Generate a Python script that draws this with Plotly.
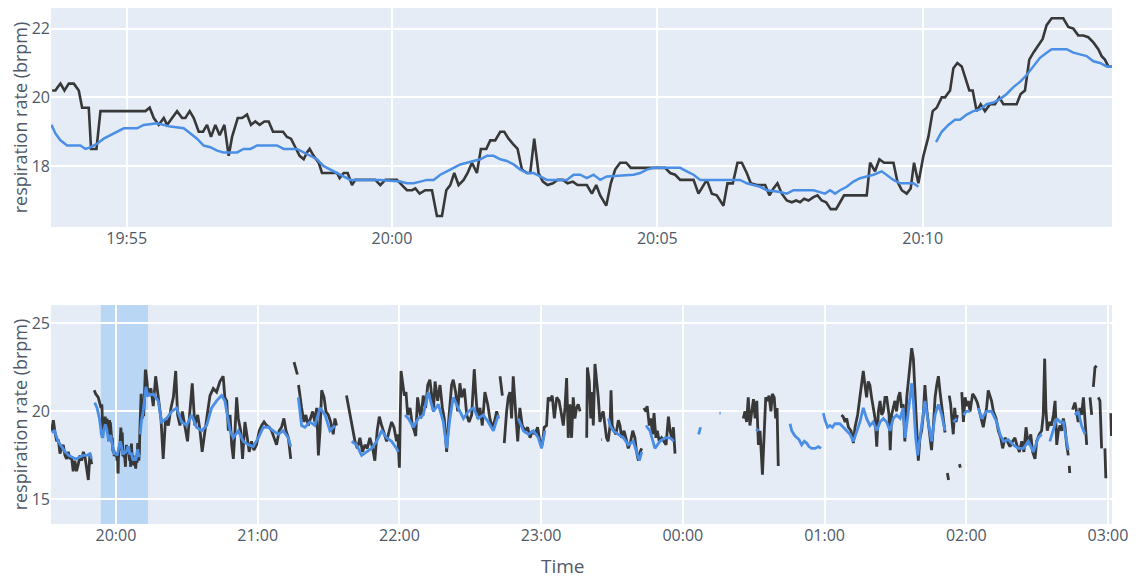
import pandas as pd
import plotly.graph_objects as go

BASE = pd.Timestamp("2023-03-01 20:00:00")

# ---------------- top panel (zoomed window), time in seconds from 20:00 ----------------
top_black_t = [
    -384.2, -380.5, -377.8, -374.8, -370.3, -365.4, -359.7, -354.1, -350.3, -345.4,
    -342.8, -340.2, -334.1, -329.6, -323.9, -278.8, -273.9, -269.3, -263.7, -258.0,
    -254.3, -248.6, -243.0, -237.3, -233.6, -228.7, -224.1, -218.5, -213.6, -209.1,
    -204.6, -199.7, -194.8, -189.5, -184.6, -180.8, -174.4, -169.5, -163.9, -159.4,
    -154.5, -149.6, -144.3, -139.4, -134.5, -128.1, -123.2, -118.7, -114.2, -109.3,
    -104.4, -99.8, -96.1, -93.1, -88.6, -82.9, -79.1, -62.2, -59.2, -54.6,
    -50.1, -45.2, -41.5, -18.9, -13.2, -7.6, 5.6, 11.3, 16.9, 22.6,
    26.4, 31.2, 37.6, 45.2, 50.8, 56.5, 61.4, 65.9, 70.4, 75.3,
    81.0, 85.5, 90.4, 96.0, 100.5, 106.6, 111.1, 116.7, 122.4, 126.9,
    131.8, 136.7, 142.0, 146.9, 152.5, 156.3, 160.8, 165.7, 170.6, 175.9,
    181.9, 187.2, 193.2, 198.5, 204.5, 209.8, 220.3, 226.0, 230.9, 235.4,
    242.2, 247.4, 252.3, 258.0, 264.8, 270.0, 308.8, 314.5, 320.1, 325.8,
    340.9, 346.5, 351.4, 355.9, 361.6, 367.2, 374.7, 379.3, 385.3, 390.6,
    395.5, 401.1, 405.6, 412.4, 416.2, 421.9, 426.7, 431.3, 435.8, 440.7,
    446.3, 452.0, 456.9, 461.4, 465.9, 470.8, 476.5, 481.0, 485.9, 490.8,
    496.0, 502.1, 506.6, 511.1, 536.7, 540.5, 546.1, 551.0, 556.3, 566.9,
    571.4, 576.3, 581.9, 586.4, 590.2, 595.1, 600.8, 606.4, 611.3, 615.8,
    621.5, 625.2, 630.9, 634.7, 639.2, 644.1, 649.0, 652.7, 656.5, 661.0,
    665.5, 670.4, 676.1, 681.7, 686.6, 691.2, 706.2, 710.7, 715.6, 720.5,
    725.1, 730.7, 735.6, 740.1, 745.8, 758.9, 764.6, 770.3, 775.9, 781.6,
    787.2, 792.9, 798.5, 802.3, 806.0, 809.8, 813.6,
]
top_black = [
    20.2, 20.2, 20.3, 20.4, 20.2, 20.4, 20.4, 20.2, 19.7, 19.7,
    19.7, 18.5, 18.5, 19.6, 19.6, 19.6, 19.7, 19.4, 19.2, 19.4,
    19.2, 19.4, 19.6, 19.4, 19.4, 19.6, 19.4, 19.0, 19.0, 19.2,
    18.85, 19.2, 18.9, 19.2, 18.3, 18.85, 19.4, 19.4, 19.5, 19.2,
    19.3, 19.2, 19.3, 19.3, 19.0, 19.0, 19.0, 18.85, 18.8, 18.55,
    18.3, 18.2, 18.4, 18.5, 18.3, 18.1, 17.8, 17.8, 17.65, 17.8,
    17.8, 17.45, 17.6, 17.6, 17.45, 17.6, 17.6, 17.45, 17.3, 17.3,
    17.35, 17.2, 17.3, 17.3, 16.55, 16.55, 17.3, 17.45, 17.8, 17.45,
    17.6, 17.8, 18.1, 17.8, 18.5, 18.5, 18.75, 18.75, 19.0, 19.0,
    18.8, 18.65, 18.5, 17.9, 17.8, 17.8, 18.8, 17.8, 17.55, 17.45,
    17.5, 17.6, 17.6, 17.5, 17.55, 17.45, 17.45, 17.2, 17.45, 17.15,
    16.85, 17.5, 17.9, 18.1, 18.1, 17.95, 17.95, 17.8, 17.75, 17.6,
    17.6, 17.2, 17.4, 17.6, 17.2, 17.15, 16.85, 17.5, 17.5, 18.1,
    18.1, 17.8, 17.5, 17.45, 17.45, 17.45, 17.15, 17.35, 17.5, 17.2,
    17.0, 16.95, 17.0, 16.95, 17.05, 17.0, 17.1, 17.15, 17.0, 16.95,
    16.75, 16.75, 16.95, 17.15, 17.15, 18.1, 17.85, 18.2, 18.1, 18.1,
    17.55, 17.3, 17.2, 17.35, 18.1, 17.5, 18.3, 18.85, 19.6, 19.7,
    20.0, 20.0, 20.2, 20.85, 21.0, 20.9, 20.5, 20.2, 20.2, 19.6,
    19.8, 19.6, 19.8, 19.8, 20.0, 19.8, 19.8, 20.1, 20.2, 21.1,
    21.3, 21.5, 21.7, 22.1, 22.3, 22.3, 22.05, 22.0, 21.8, 21.8,
    21.75, 21.6, 21.4, 21.2, 21.1, 20.9, 20.9,
]
top_blue_t = [
    -385.0, -380.5, -374.8, -367.3, -352.2, -346.6, -340.9, -333.4, -325.9, -318.3,
    -310.8, -303.2, -288.2, -280.6, -265.6, -258.0, -250.5, -235.4, -227.9, -220.4,
    -212.9, -205.3, -197.8, -190.3, -175.2, -167.7, -160.1, -152.6, -130.0, -122.4,
    -107.4, -99.8, -92.3, -84.8, -77.2, -69.7, -62.2, -54.7, -47.1, -13.2,
    9.4, 16.9, 24.5, 32.0, 39.5, 47.1, 54.6, 62.1, 69.7, 77.2,
    84.7, 92.3, 99.8, 107.3, 114.9, 122.4, 129.9, 137.5, 145.0, 152.5,
    160.1, 167.6, 175.1, 197.7, 205.3, 212.8, 220.3, 227.9, 235.4, 242.9,
    273.0, 280.6, 288.1, 295.6, 325.8, 333.3, 340.9, 348.4, 393.6, 401.1,
    408.6, 416.2, 423.7, 438.8, 446.3, 453.9, 476.5, 484.0, 489.6, 495.3,
    500.9, 506.6, 514.1, 521.7, 529.2, 536.7, 544.3, 553.7, 561.2, 566.9,
    574.4, 589.5, 595.1, 605.0, 615.1, 621.5, 629.0, 636.5, 642.2, 649.7,
    657.3, 664.8, 672.3, 679.9, 687.4, 694.9, 702.5, 710.0, 717.5, 725.1,
    732.6, 740.1, 745.8, 762.7, 770.3, 777.8, 785.3, 792.9, 800.4, 807.9,
    813.6,
]
top_blue = [
    19.2, 18.95, 18.75, 18.6, 18.6, 18.5, 18.55, 18.65, 18.8, 18.9,
    19.0, 19.1, 19.1, 19.2, 19.25, 19.2, 19.15, 19.1, 18.95, 18.8,
    18.6, 18.55, 18.45, 18.4, 18.4, 18.5, 18.5, 18.6, 18.6, 18.5,
    18.5, 18.4, 18.3, 18.2, 18.0, 17.9, 17.8, 17.7, 17.6, 17.6,
    17.55, 17.5, 17.5, 17.55, 17.6, 17.6, 17.75, 17.85, 17.95, 18.05,
    18.1, 18.15, 18.2, 18.3, 18.3, 18.2, 18.15, 18.05, 17.9, 17.8,
    17.8, 17.7, 17.6, 17.6, 17.75, 17.75, 17.65, 17.75, 17.6, 17.7,
    17.75, 17.8, 17.9, 17.95, 17.95, 17.85, 17.75, 17.6, 17.6, 17.5,
    17.45, 17.4, 17.3, 17.25, 17.2, 17.3, 17.3, 17.25, 17.2, 17.3,
    17.2, 17.3, 17.4, 17.55, 17.65, 17.7, 17.75, 17.85, 17.7, 17.6,
    17.5, 17.5, 17.4, None, 18.7, 19.0, 19.2, 19.35, 19.35, 19.5,
    19.6, 19.65, 19.8, 19.85, 19.95, 20.1, 20.3, 20.45, 20.65, 20.9,
    21.15, 21.3, 21.4, 21.4, 21.3, 21.25, 21.2, 21.05, 21.0, 20.9,
    20.9,
]

# ---------------- bottom panel (whole night), time in minutes from 20:00 ----------------
night_black_pre_t = [
    -27.2, -26.5, -25.8, -25.1, -24.4, -23.7, -23.0, -22.3, -21.6, -20.9,
    -20.2, -19.5, -18.8, -18.1, -17.4, -16.7, -15.95, -15.2, -14.5, -13.8,
    -13.1, -12.4, -11.7, -11.0, -10.3, -9.8, -9.2, -8.6, -7.5, -6.8,
]
night_black_pre = [
    18.9, 19.5, 18.8, 18.3, 18.4, 17.6, 17.9, 18.1, 17.5, 17.3,
    17.7, 17.3, 17.4, 16.6, 17.2, 16.6, 17.0, 17.5, 17.2, 17.7,
    17.4, 16.8, 16.1, 17.6, 17.0, None, 21.2, 21.0, 20.8, 20.4,
]
night_blue_pre_t = [
    -27.2, -26.0, -24.5, -23.0, -21.5, -20.0, -18.5, -17.0, -15.5, -14.0,
    -12.5, -11.0, -10.3, -9.8, -9.0, -8.0, -7.0,
]
night_blue_pre = [
    18.8, 18.9, 18.3, 18.0, 17.7, 17.5, 17.4, 17.3, 17.4, 17.5,
    17.5, 17.6, 17.3, None, 20.5, 20.2, 19.6,
]
night_black_post_t = [
    13.7, 14.8, 15.8, 16.8, 17.9, 19.05, 20.0, 21.0, 22.2, 23.3,
    24.3, 25.3, 26.1, 27.1, 28.1, 29.2, 30.3, 31.3, 32.3, 33.4,
    34.6, 35.6, 36.5, 37.7, 38.8, 39.8, 41.2, 42.6, 44.0, 45.4,
    46.1, 46.9, 47.6, 48.3, 49.0, 49.7, 50.4, 51.1, 51.8, 52.8,
    53.6, 54.6, 55.6, 56.4, 57.4, 58.4, 59.5, 60.7, 61.7, 62.7,
    63.8, 64.9, 65.9, 66.9, 68.0, 69.1, 70.1, 71.1, 72.0, 73.0,
    74.0, 74.7, 75.4, 76.2, 76.8, 77.05, 77.3, 77.9, 78.6, 79.6,
    80.4, 81.4, 82.4, 83.3, 84.2, 85.0, 85.7, 86.4, 87.1, 88.1,
    88.9, 89.9, 90.9, 92.0, 92.7, 93.4, 95.5, 97.6, 98.0, 98.4,
    99.3, 100.2, 101.2, 102.2, 103.3, 104.4, 105.4, 106.4, 107.5, 108.7,
    109.6, 110.6, 111.5, 112.5, 113.5, 114.6, 115.7, 116.7, 117.7, 118.8,
    119.3, 120.0, 120.7, 121.2, 122.1, 122.8, 123.5, 124.5, 125.5, 126.3,
    126.9, 127.7, 128.3, 129.1, 130.1, 131.1, 132.0, 132.9, 133.7, 134.4,
    135.1, 136.2, 137.2, 138.2, 139.0, 140.0, 140.7, 141.4, 142.1, 142.8,
    143.8, 144.7, 145.6, 146.4, 147.5, 148.5, 149.5, 150.6, 151.7, 152.3,
    153.1, 154.1, 155.1, 156.2, 157.4, 158.3, 159.3, 160.2, 161.2, 161.9,
    162.25, 162.6, 163.6, 164.0, 164.4, 164.7, 165.4, 166.1, 166.8, 167.5,
    168.2, 169.2, 170.1, 171.0, 172.0, 173.2, 174.3, 175.3, 176.3, 177.4,
    178.5, 179.5, 180.5, 181.3, 182.3, 183.0, 183.7, 184.7, 185.6, 186.6,
    187.6, 188.4, 189.4, 190.1, 190.8, 191.5, 192.2, 192.9, 193.6, 194.3,
    195.0, 195.7, 196.5, 198.0, 199.3, 199.6, 200.4, 201.0, 201.5, 202.1,
    202.8, 203.5, 204.2, 204.9, 205.6, 206.3, 207.0, 207.7, 208.4, 209.2,
    209.6, 210.1, 210.8, 211.7, 212.7, 213.4, 214.1, 215.1, 215.9, 216.9,
    217.9, 218.8, 219.7, 220.4, 221.2, 221.9, 222.6, 223.0, 223.5, 224.4,
    224.9, 225.8, 226.4, 227.2, 227.8, 228.6, 229.2, 230.0, 231.0, 232.0,
    232.9, 233.9, 234.6, 235.3, 236.0, 236.7, 250.0, 265.6, 266.3, 267.0,
    267.7, 268.4, 269.1, 269.9, 270.6, 271.3, 272.0, 272.7, 273.7, 274.5,
    275.1, 275.9, 276.5, 277.3, 277.9, 278.7, 279.3, 279.9, 280.4, 295.0,
    307.2, 307.9, 308.7, 309.4, 310.1, 311.2, 312.2, 312.9, 314.0, 315.0,
    315.7, 316.4, 317.1, 317.8, 318.5, 319.2, 319.9, 320.6, 321.4, 322.1,
    322.8, 323.5, 324.2, 324.9, 325.6, 326.3, 327.3, 327.8, 328.4, 329.1,
    329.8, 330.5, 331.2, 331.9, 332.6, 333.3, 334.0, 334.8, 335.5, 336.2,
    336.9, 337.6, 338.3, 339.0, 339.7, 340.4, 341.1, 341.8, 342.5, 343.2,
    343.9, 344.6, 345.3, 346.1, 346.8, 347.5, 348.2, 348.9, 349.6, 350.3,
    351.0, 351.5, 352.0, 352.5, 352.65, 352.8, 353.4, 354.0, 354.5, 355.1,
    355.7, 356.2, 356.6, 357.1, 357.5, 357.8, 358.1, 358.8, 359.5, 360.2,
    360.9, 361.6, 362.7, 363.7, 364.7, 365.5, 366.5, 367.2, 368.6, 369.3,
    370.0, 370.7, 371.5, 372.6, 373.6, 374.6, 375.4, 376.4, 377.4, 378.5,
    379.6, 380.6, 381.6, 382.5, 383.5, 384.4, 385.3, 386.3, 387.3, 388.1,
    389.1, 389.8, 390.9, 391.9, 392.6, 393.2, 393.7, 394.3, 395.2, 396.1,
    396.9, 397.6, 398.3, 399.0, 399.7, 400.4, 401.1, 401.8, 402.5, 403.2,
    403.4, 403.6, 403.8, 404.4, 405.0, 406.0, 406.7, 407.4, 408.1, 408.8,
    409.6, 410.3, 411.0, 411.7, 412.4, 413.1, 413.5, 413.8, 414.5, 415.2,
    415.5, 415.9, 416.6, 417.3, 418.0, 418.7, 419.1, 420.0, 421.2, 421.5,
]
night_black_post = [
    21.1, 21.3, 20.3, 22.0, 20.9, 19.6, 17.3, 19.6, 19.2, 20.2,
    20.8, 22.3, 19.8, 19.2, 20.0, 19.1, 18.3, 20.0, 21.6, 19.2,
    19.8, 18.9, 17.7, 18.9, 20.0, 20.9, 21.3, 21.1, 21.7, 22.0,
    20.8, 20.6, 18.9, 19.8, 18.1, 17.3, 18.9, 20.8, 19.6, 18.9,
    17.3, 19.4, 18.5, 17.7, 18.3, 17.8, 18.1, 18.9, 19.2, 19.4,
    19.2, 19.1, 18.9, 18.5, 18.1, 18.9, 19.1, 19.6, 18.9, 18.5,
    17.3, None, 22.8, 22.4, 22.1, None, 21.5, 20.8, 20.2, 19.4,
    19.8, 19.2, 19.6, 20.0, 19.4, 20.2, 17.5, 18.9, 21.2, 20.8,
    20.0, 19.8, 19.4, 18.7, 19.6, 19.2, None, 20.9, 20.6, 20.2,
    19.6, 18.9, 18.3, 17.9, 18.5, 17.7, 18.1, 17.9, 18.5, 17.9,
    17.2, 18.9, 19.7, 19.2, 18.7, 18.3, 18.9, 19.4, 19.1, 18.3,
    18.7, 16.8, 22.3, 21.7, 20.9, 21.1, 19.8, 20.2, 19.2, 18.9,
    18.6, 20.8, 20.2, 19.6, 20.9, 20.2, 21.5, 21.8, 20.9, 20.0,
    21.7, 20.6, 21.5, 20.2, 19.6, 17.7, 19.2, 20.2, 21.5, 21.8,
    21.1, 20.0, 21.6, 20.8, 21.3, 19.8, 19.4, 19.8, 22.4, 21.1,
    19.6, 20.2, 19.2, 21.1, 20.4, 19.6, 19.1, 19.4, 20.0, 19.6,
    None, 22.0, 20.9, None, 18.2, 18.8, 20.0, 20.8, 21.1, 19.6,
    22.0, 20.0, 18.3, 20.2, 19.2, 18.9, 19.1, 18.5, 18.9, 18.7,
    19.1, 18.3, 18.1, 19.1, 19.2, 20.8, 20.6, 20.9, 19.6, 20.8,
    20.6, 20.0, 19.2, 20.2, 21.9, 18.5, 20.4, 18.5, 20.8, 19.6,
    20.2, 20.4, 20.0, None, 18.5, 22.5, 21.7, 19.6, 21.1, 19.2,
    22.7, 21.9, 20.8, 19.4, 19.8, 20.0, 19.2, 18.5, 18.3, 19.2,
    21.2, 19.2, 18.9, 18.7, 19.5, 19.2, 18.5, 18.9, 18.5, 17.9,
    18.3, 18.9, 18.5, 17.7, 17.2, 17.7, 17.9, None, 20.2, 20.0,
    20.3, 19.2, 19.6, 18.7, 19.9, 18.5, 18.9, 18.3, 18.5, 18.3,
    18.1, 19.7, 18.9, 18.5, 19.1, 17.6, None, 19.6, 20.0, 19.4,
    20.8, 19.2, 20.0, 20.7, 19.6, 20.6, 18.1, 18.9, 16.4, 19.6,
    20.8, 20.6, 20.9, 20.0, 21.0, 20.8, 19.6, 20.2, 16.9, None,
    19.8, 19.7, 19.4, 19.6, 19.1, 18.9, 18.2, 19.1, 19.8, 20.8,
    21.3, 22.3, 21.5, 20.8, 21.7, 21.5, 20.8, 20.2, 19.6, 18.0,
    20.0, 20.6, 19.8, 20.0, 20.8, 20.8, 19.8, 17.8, 19.8, 20.2,
    20.6, 20.0, 20.8, 21.1, 20.2, 20.4, 18.3, 20.8, 21.7, 23.0,
    23.6, 23.0, 20.8, 18.7, 17.2, 18.5, 18.9, 19.8, 21.5, 20.2,
    19.4, 18.7, 17.8, 19.2, 20.8, 21.5, 22.0, 21.1, 20.4, 19.6,
    18.8, None, 16.5, 16.1, None, 20.9, 20.4, 19.4, 18.7, 20.2,
    19.4, 19.8, None, 17.0, 16.8, None, 21.1, 19.4, 20.8, 20.3,
    20.6, 20.0, 21.0, 20.8, 20.5, 20.0, 19.4, 19.1, 20.2, 21.2,
    20.9, 20.6, 20.0, 19.6, 18.9, 18.5, 17.9, 18.5, 18.3, 18.0,
    18.3, 18.5, 18.0, 17.7, 18.3, 17.7, 19.1, 18.1, 18.7, 17.7,
    17.3, 18.3, 18.7, 18.9, 19.8, 23.0, 20.2, 18.9, 19.4, 19.2,
    19.8, 20.6, 18.1, 18.9, 19.2, 18.9, 19.6, 19.1, 18.1, 17.5,
    None, 16.9, 16.5, None, 20.1, 20.5, 20.0, 19.4, 20.2, 19.8,
    20.8, 19.4, 18.1, None, 20.8, 19.8, None, 21.4, 22.5, 22.6,
    None, 20.8, 20.6, 17.9, None, 17.9, 16.2, None, 19.9, 18.6,
]
night_blue_post_t = [
    15.8, 17.9, 19.3, 21.4, 23.6, 25.7, 27.8, 29.9, 32.0, 34.1,
    36.3, 38.4, 40.5, 42.6, 44.7, 46.1, 48.3, 49.7, 51.8, 53.9,
    56.0, 58.1, 60.3, 62.4, 64.5, 66.6, 68.7, 70.8, 73.0, 74.0,
    75.5, 77.2, 78.6, 80.0, 82.1, 84.2, 86.4, 88.5, 90.6, 92.7,
    96.0, 99.8, 101.9, 104.0, 106.1, 108.2, 110.4, 112.5, 114.6, 116.7,
    118.8, 119.5, 121.0, 122.4, 123.8, 125.9, 128.0, 130.1, 132.2, 134.4,
    136.5, 138.6, 140.0, 141.4, 142.8, 144.9, 147.1, 149.2, 151.3, 153.4,
    155.5, 157.6, 159.8, 161.9, 166.0, 170.3, 172.5, 174.6, 176.7, 178.8,
    180.2, 181.6, 195.0, 205.4, 205.8, 207.0, 208.5, 209.2, 210.6, 212.7,
    214.8, 216.9, 219.0, 220.4, 221.6, 222.6, 223.5, 224.4, 226.1, 228.2,
    230.3, 232.4, 234.6, 236.2, 240.0, 246.7, 247.5, 250.0, 255.5, 256.0,
    260.0, 271.0, 272.0, 280.0, 285.4, 286.1, 287.5, 289.2, 290.3, 291.4,
    292.4, 293.4, 294.5, 296.0, 297.4, 298.5, 299.0, 299.5, 300.2, 301.3,
    302.3, 303.3, 304.4, 306.5, 308.7, 310.8, 312.2, 313.6, 315.0, 316.4,
    317.8, 319.2, 320.6, 322.1, 323.5, 324.9, 326.3, 327.7, 329.1, 330.5,
    332.0, 333.3, 334.1, 335.5, 336.9, 337.6, 338.6, 339.4, 340.4, 341.8,
    342.5, 343.9, 345.3, 346.8, 348.2, 349.6, 351.0, 352.5, 354.5, 356.0,
    357.0, 358.8, 360.0, 361.6, 363.0, 365.1, 366.5, 368.6, 370.7, 372.9,
    374.3, 375.7, 377.8, 379.9, 382.0, 384.2, 386.3, 388.4, 390.5, 391.9,
    393.0, 395.4, 396.9, 398.3, 399.7, 401.1, 402.5, 403.2, 404.5, 406.0,
    407.4, 408.8, 410.3,
]
night_blue_post = [
    21.0, 20.6, 19.4, 19.6, 20.0, 20.2, 19.4, 19.2, 19.8, 19.1,
    18.9, 19.2, 20.2, 20.6, 20.9, 20.6, 18.9, 18.5, 18.9, 18.3,
    18.1, 18.0, 18.5, 19.1, 19.1, 18.9, 18.7, 18.9, 18.5, 18.0,
    None, 20.8, 19.2, 19.1, 19.4, 19.2, 20.2, 19.8, 18.9, 19.2,
    None, 18.3, 18.1, 17.5, 17.7, 17.9, 18.3, 18.9, 18.5, 18.3,
    17.9, 17.7, None, 19.8, 19.6, 19.1, 19.6, 19.8, 21.1, 20.0,
    20.4, 19.4, 17.9, 19.6, 20.8, 20.2, 19.6, 20.0, 20.2, 19.6,
    19.8, 19.4, 18.9, 19.8, None, 19.6, 18.9, 18.7, 18.9, 18.5,
    17.9, 18.9, None, 18.4, 18.4, None, 19.6, 19.2, 18.9, 18.7,
    18.5, 18.1, 18.3, 17.7, 17.2, 17.7, None, 19.2, 18.9, 17.9,
    18.3, 18.5, 18.5, 18.3, None, 18.7, 19.1, None, 19.9, 19.9,
    None, 19.0, 18.9, None, 19.3, 18.9, 18.6, 18.4, 18.1, 18.3,
    18.2, 18.0, 17.9, 17.9, 18.0, 17.9, None, 19.9, 19.5, 19.1,
    19.2, 19.1, 19.3, 19.3, 19.0, 18.7, 18.3, 18.9, 19.4, 20.2,
    19.6, 19.2, 19.4, 18.9, 19.4, 19.6, 19.4, 18.9, 19.6, 19.8,
    19.6, 20.2, 18.5, 20.0, 21.6, 20.6, 18.5, 17.5, 18.5, 19.6,
    20.6, 19.4, 18.3, 19.8, 20.4, 19.8, 18.9, None, 19.4, 19.6,
    None, 19.8, 20.0, 20.0, None, 20.2, 19.6, 20.0, 20.0, 19.4,
    18.7, 18.3, 18.4, 18.1, 17.9, 17.9, 18.3, 17.7, 18.5, 18.7,
    None, 18.3, 19.0, 19.6, 19.4, 19.4, 18.3, 17.8, None, 19.8,
    20.0, 19.2, 18.7,
]

top_ticks_y = [18, 20, 22]
night_ticks_y = [15, 20, 25]

BLACK = "#383838"
BLUE = "#4a8ee6"
SHADE = "#b9d7f5"
TICKC = "#4f5968"


def secs(vals):
    return [BASE + pd.Timedelta(seconds=v) for v in vals]


def mins(vals):
    return [BASE + pd.Timedelta(minutes=v) for v in vals]


win_start = BASE + pd.Timedelta(seconds=top_black_t[0] - 0.8)
win_end = BASE + pd.Timedelta(seconds=top_black_t[-1])

night_black_x = mins(night_black_pre_t) + secs(top_black_t) + mins(night_black_post_t)
night_black_y = night_black_pre + top_black + night_black_post
night_blue_x = mins(night_blue_pre_t) + secs(top_blue_t) + mins(night_blue_post_t)
night_blue_y = night_blue_pre + top_blue + night_blue_post

fig = go.Figure()
fig.add_trace(go.Scatter(x=secs(top_black_t), y=top_black, mode="lines",
                         line=dict(color=BLACK, width=2.6), xaxis="x", yaxis="y",
                         showlegend=False))
fig.add_trace(go.Scatter(x=secs(top_blue_t), y=top_blue, mode="lines",
                         line=dict(color=BLUE, width=2.5), xaxis="x", yaxis="y",
                         showlegend=False))
fig.add_trace(go.Scatter(x=night_black_x, y=night_black_y, mode="lines",
                         line=dict(color=BLACK, width=2.8), xaxis="x2", yaxis="y2",
                         showlegend=False))
fig.add_trace(go.Scatter(x=night_blue_x, y=night_blue_y, mode="lines",
                         line=dict(color=BLUE, width=2.8), xaxis="x2", yaxis="y2",
                         showlegend=False))

fig.add_shape(type="rect", xref="x2", yref="y2 domain", x0=win_start, x1=win_end,
              y0=0, y1=1, fillcolor=SHADE, line=dict(width=0), layer="below")

fig.add_annotation(text="Time", xref="paper", yref="paper", x=0.4826, y=-0.0814,
                   xanchor="center", yanchor="middle", showarrow=False,
                   font=dict(size=19, color=TICKC))

axis_common = dict(showgrid=True, gridcolor="white", gridwidth=1.5, zeroline=False,
                   showline=False, ticks="", tickfont=dict(size=16, color=TICKC),
                   automargin=False)

fig.update_layout(
    width=1137, height=571,
    margin=dict(l=43, r=33, t=0, b=55),
    paper_bgcolor="white", plot_bgcolor="#E5ECF6",
    font=dict(family="Open Sans", color=TICKC),
    xaxis=dict(domain=[0, 1], anchor="y",
               range=[BASE + pd.Timedelta(seconds=-385.5), BASE + pd.Timedelta(seconds=814)],
               tickformat="%H:%M", dtick=300000, tick0=BASE, **axis_common),
    yaxis=dict(domain=[0.5756, 1], anchor="x", range=[16.23, 22.6],
               tickvals=top_ticks_y,
               title=dict(text="respiration rate (brpm)", font=dict(size=18, color=TICKC),
                          standoff=3),
               **axis_common),
    xaxis2=dict(domain=[0, 1], anchor="y2",
                range=[BASE + pd.Timedelta(minutes=-27.5), BASE + pd.Timedelta(minutes=421.7)],
                tickformat="%H:%M", dtick=3600000, tick0=BASE,
                **axis_common),
    yaxis2=dict(domain=[0, 0.4244], anchor="x2", range=[13.6, 26.05],
                tickvals=night_ticks_y,
                title=dict(text="respiration rate (brpm)", font=dict(size=18, color=TICKC),
                           standoff=3),
                **axis_common),
)

fig.write_html("out.html")
